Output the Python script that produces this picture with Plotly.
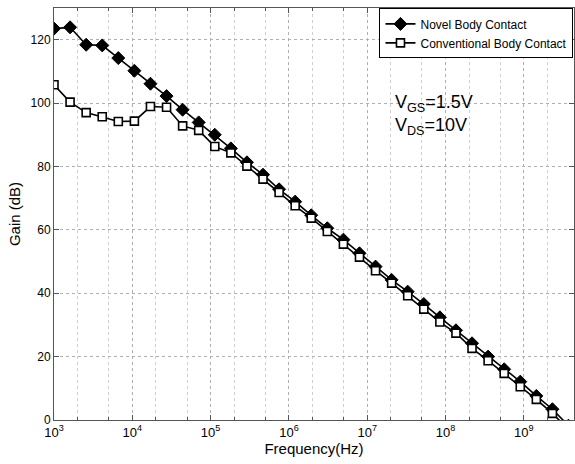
import plotly.graph_objects as go

freq_hz = [1.000e3, 1.604e3, 2.574e3, 4.129e3, 6.625e3, 1.063e4, 1.705e4, 2.736e4,
           4.389e4, 7.041e4, 1.130e5, 1.813e5, 2.908e5, 4.666e5, 7.485e5, 1.201e6,
           1.927e6, 3.091e6, 4.960e6, 7.957e6, 1.276e7, 2.048e7, 3.285e7, 5.271e7,
           8.457e7, 1.357e8, 2.177e8, 3.492e8, 5.603e8, 8.989e8, 1.442e9, 2.314e9,
           3.710e9]
novel_gain = [123.5, 123.9, 118.4, 118.2, 114.2, 110.2, 106.1, 102.2, 97.9, 93.9,
              90.0, 85.7, 81.3, 77.4, 72.8, 68.9, 64.6, 60.5, 56.9, 52.6, 48.4,
              44.2, 40.5, 36.6, 32.4, 28.3, 24.2, 20.0, 16.0, 12.1, 7.6, 3.4, -1.8]
conv_gain = [105.8, 100.3, 97.0, 95.7, 94.2, 94.3, 98.9, 98.7, 92.8, 91.4,
             86.3, 84.3, 80.1, 76.0, 71.8, 67.6, 63.7, 59.5, 55.5, 51.4, 47.1,
             43.2, 39.2, 35.0, 30.9, 27.4, 22.6, 18.7, 14.7, 10.5, 6.5, 2.1, -3.0]
x_tick_exps = [3, 4, 5, 6, 7, 8, 9]
y_ticks = [0, 20, 40, 60, 80, 100, 120]

FONT = "Liberation Sans, Arial, Helvetica, sans-serif"
AXC = "#555555"
GRID = "#b0b0b0"

fig = go.Figure()
fig.add_trace(go.Scatter(
    x=freq_hz, y=novel_gain, mode="lines+markers", name="Novel Body Contact",
    line=dict(color="black", width=1.6),
    marker=dict(symbol="diamond", size=10, color="black", line=dict(color="black", width=1)),
))
fig.add_trace(go.Scatter(
    x=freq_hz, y=conv_gain, mode="lines+markers", name="Conventional Body Contact",
    line=dict(color="black", width=1.6),
    marker=dict(symbol="square", size=8, color="white", line=dict(color="black", width=1.6)),
))

fig.add_annotation(
    x=0.652, y=0.74, xref="paper", yref="paper", xanchor="left", yanchor="middle",
    text="V<sub>GS</sub>=1.5V<br>V<sub>DS</sub>=10V", showarrow=False, align="left",
    font=dict(family=FONT, size=18, color="black"),
)

fig.update_xaxes(
    type="log", range=[3, 9.64],
    tickvals=[10 ** e for e in x_tick_exps],
    ticktext=[f"10<sup>{e}</sup>" for e in x_tick_exps],
    ticks="inside", ticklen=5, tickcolor=AXC, mirror="ticks",
    showline=True, linecolor=AXC, linewidth=1,
    showgrid=True, gridcolor=GRID, griddash="dot", gridwidth=1,
    minor=dict(ticks="inside", ticklen=3, tickcolor=AXC, showgrid=True,
               gridcolor="#cfcfcf", griddash="dot", gridwidth=1),
    zeroline=False,
    tickfont=dict(family=FONT, size=13, color="black"),
    title=dict(text="Frequency(Hz)", font=dict(family=FONT, size=15, color="black"), standoff=4),
)
fig.update_yaxes(
    range=[0, 130], tickvals=y_ticks,
    ticks="inside", ticklen=5, tickcolor=AXC, mirror="ticks",
    showline=True, linecolor=AXC, linewidth=1,
    showgrid=True, gridcolor=GRID, griddash="dot", gridwidth=1,
    zeroline=False,
    tickfont=dict(family=FONT, size=12, color="black"),
    title=dict(text="Gain (dB)", font=dict(family=FONT, size=15, color="black"), standoff=6),
)

fig.update_layout(
    width=575, height=464,
    margin=dict(l=54, r=1, t=8, b=44),
    paper_bgcolor="white", plot_bgcolor="white",
    showlegend=True,
    legend=dict(x=0.999, y=0.999, xanchor="right", yanchor="top",
                bgcolor="white", bordercolor="black", borderwidth=1,
                font=dict(family=FONT, size=12, color="black"),
                tracegroupgap=0, itemwidth=30),
)

fig.write_html("out.html", config={"displayModeBar": False},
               post_script="document.body.style.margin='0px';")
